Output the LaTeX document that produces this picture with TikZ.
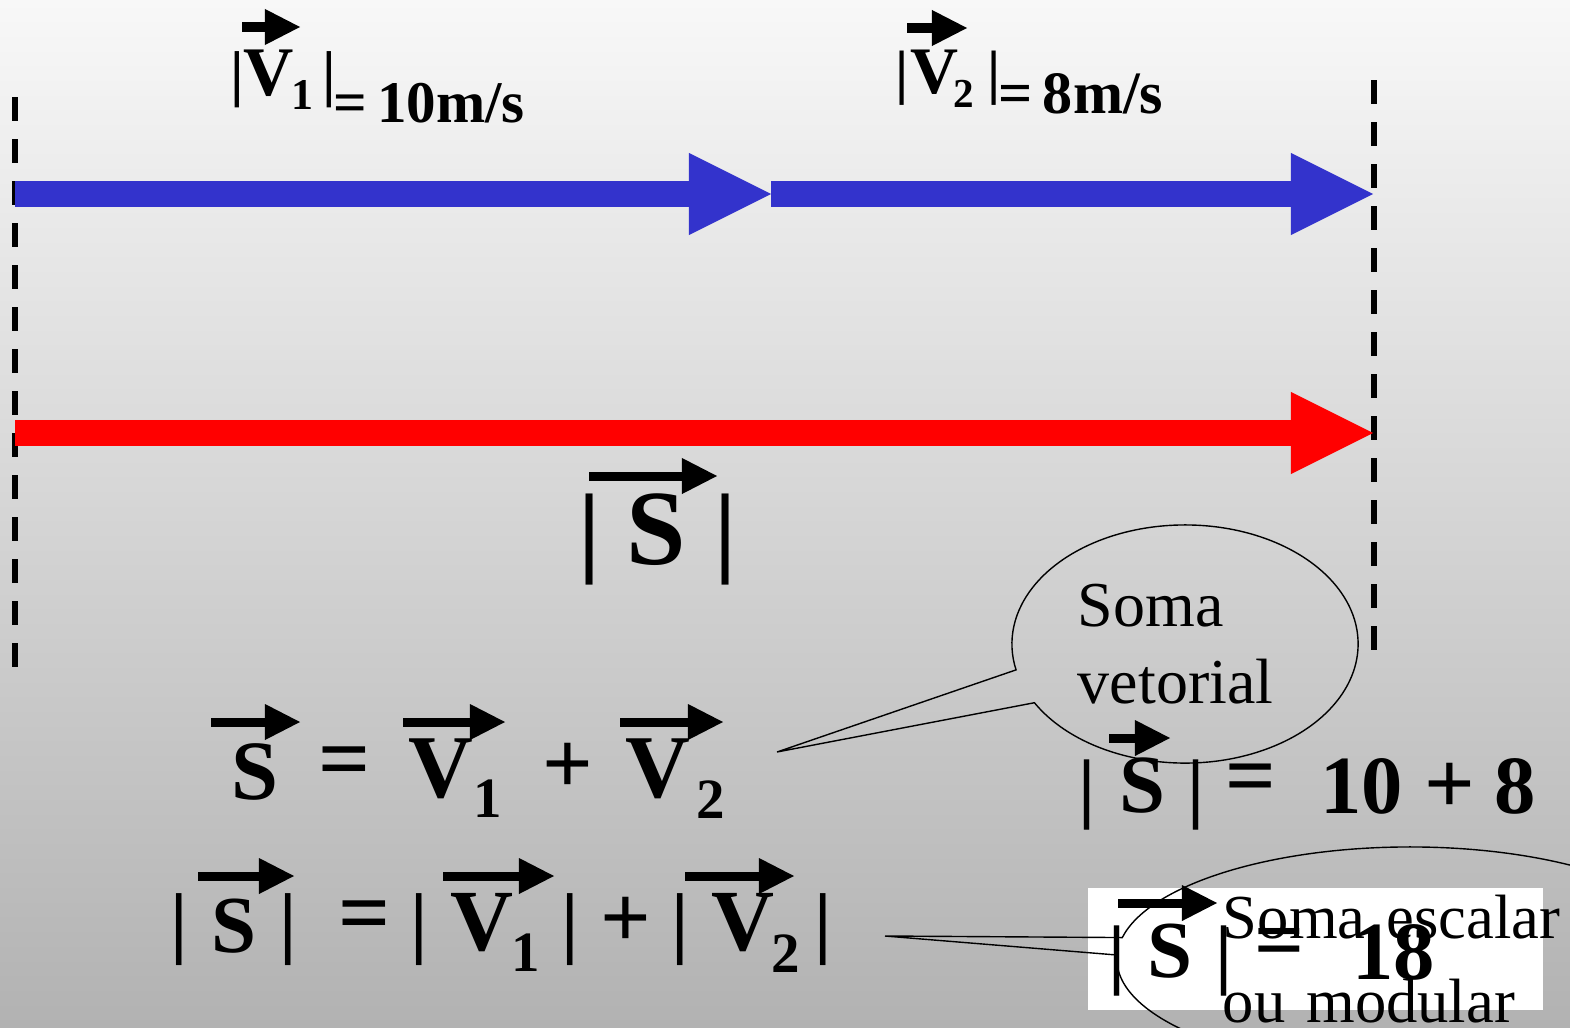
\documentclass[tikz,border=0pt]{standalone}
\usepackage{fontspec}
\setmainfont{Liberation Serif}
\usetikzlibrary{arrows.meta, shapes.callouts, positioning}
\definecolor{vecblue}{RGB}{51, 51, 204}
\definecolor{vecred}{RGB}{255, 0, 0}
\definecolor{bgtop}{RGB}{248, 248, 248}
\definecolor{bgbot}{RGB}{178, 178, 178}

\begin{document}
\begin{tikzpicture}[x=0.01cm, y=-0.01cm,
    bigarrow/.style={line width=0.26cm, -{Triangle[length=0.82cm, width=0.82cm, line width=0pt]}},
    vecarrow/.style={line width=0.09cm, -{Triangle[length=0.35cm, width=0.36cm, line width=0pt]}},
    guide/.style={line width=0.055cm, dash pattern=on 0.24cm off 0.18cm},
    rmf/.style={inner sep=0pt, font=\fontsize{#1}{#1}\selectfont},
    bff/.style={inner sep=0pt, font=\bfseries\fontsize{#1}{#1}\selectfont},
    balloon/.style={ellipse callout, draw=black, line width=0.014cm,
                    inner sep=0pt, align=left}
]

%% Background
\useasboundingbox (0,0) rectangle (1570,1027);
\shade[top color=bgtop, bottom color=bgbot] (0,0) rectangle (1570,1027);

%% Dashed guides
\draw[guide] (15,97) -- (15,672);
\draw[guide] (1374,80) -- (1374,662);

%% Vectors
\coordinate (O)  at (15,194);
\coordinate (A)  at (771,194);
\coordinate (B)  at (1373,194);
\coordinate (O2) at (15,433);
\coordinate (B2) at (1373,433);
\draw[bigarrow, vecblue] (O) -- (A);
\draw[bigarrow, vecblue] (A) -- (B);
\draw[bigarrow, vecred]  (O2) -- (B2);

%% ── Magnitude labels ──────────────────────────────
\node[bff=17.6pt] (v1barL) at (237.5,80) {|};
\node[bff=19.8pt] (v1)     at (268.5,73.5) {V};
\node[bff=12.5pt] (v1sub)  at (302,95) {1};
\node[bff=17.6pt] (v1barR) at (329.5,80) {|};
\node[bff=16.8pt, anchor=base west] (v1val) at (333,122) {=\,10m/s};

\node[bff=17pt]   (v2barL) at (902.5,78.5) {|};
\node[bff=18.9pt] (v2)     at (934.5,72.5) {V};
\node[bff=11.7pt] (v2sub)  at (963.5,94) {2};
\node[bff=17pt]   (v2barR) at (994.5,78.5) {|};
\node[bff=17.1pt, anchor=base west] (v2val) at (998,113) {=\,8m/s};

\node[bff=28.5pt] (sbarL) at (589.5,540) {|};
\node[bff=30.4pt] (sbig)  at (656,529.5) {S};
\node[bff=28.5pt] (sbarR) at (725.5,540) {|};

%% ── S = V1 + V2 ───────────────────────────────────
\node[bff=24pt]   (e1s)    at (255,772) {S};
\node[bff=26pt]   (e1eq)   at (345,768) {=};
\node[bff=25.5pt] (e1v1)   at (440.5,768.5) {V};
\node[bff=16.2pt] (e1n1)   at (487.5,798.5) {1};
\node[bff=25.3pt] (e1plus) at (568,768) {+};
\node[bff=25.5pt] (e1v2)   at (657.5,768.5) {V};
\node[bff=16.2pt] (e1n2)   at (710.5,799.5) {2};

%% ── |S| = |V1| + |V2| ─────────────────────────────
\node[bff=22.5pt] (e2b1)   at (179.5,930) {|};
\node[bff=23pt]   (e2s)    at (234,926) {S};
\node[bff=22.5pt] (e2b2)   at (288,930) {|};
\node[bff=26pt]   (e2eq)   at (365,922) {=};
\node[bff=22.5pt] (e2b3)   at (419.5,930) {|};
\node[bff=24.8pt] (e2v1)   at (482,922.5) {V};
\node[bff=16.2pt] (e2n1)   at (525.5,952.5) {1};
\node[bff=22.5pt] (e2b4)   at (570,930) {|};
\node[bff=25.3pt] (e2plus) at (625.5,922) {+};
\node[bff=22.5pt] (e2b5)   at (680,930) {|};
\node[bff=24.8pt] (e2v2)   at (742.5,922.5) {V};
\node[bff=16.2pt] (e2n2)   at (785.5,953.5) {2};
\node[bff=22.5pt] (e2b6)   at (823.5,930) {|};

%% ── |S| = 10 + 8 ──────────────────────────────────
\node[bff=22pt]   (rb1)   at (1086.5,794.5) {|};
\node[bff=23.5pt] (rs)    at (1142,786) {S};
\node[bff=22pt]   (rb2)   at (1196,794.5) {|};
\node[bff=25.3pt] (req)   at (1250.5,785) {=};
\node[bff=23.5pt] (r10)   at (1361.5,786) {10};
\node[bff=25.3pt] (rplus) at (1449.5,788) {+};
\node[bff=23.5pt] (r8)    at (1515,786) {8};

%% Arrows over the letters
\foreach \xa/\xb/\yy in {242/300/27, 907/967/28, 589/717/476,
                         211/300/722, 403/505/722, 620/723/722,
                         198/294/876, 443/554/876, 685/794/876,
                         1109/1170/738}
  \draw[vecarrow] (\xa,\yy) -- (\xb,\yy);

%% Callout: vector sum
\node[balloon, minimum width=3.46cm, minimum height=2.38cm, text width=2.14cm,
      callout absolute pointer={(777,752)}, callout pointer arc=17,
      font=\fontsize{18.2pt}{21.9pt}\selectfont] (soma1) at (1185,644) {Soma\\vetorial};

%% ── |S| = 18 (white box) ──────────────────────────
\node[fill=white, inner sep=0pt, minimum width=4.55cm, minimum height=1.22cm] (sbox) at (1315.5,949) {};
\node[bff=22pt]   (bb1) at (1117,960.5) {|};
\node[bff=23pt]   (bs)  at (1170,951.5) {S};
\node[bff=22pt]   (bb2) at (1224.5,960.5) {|};
\node[bff=25pt]   (beq) at (1280,948.5) {=};
\node[bff=23.5pt] (b18) at (1393.5,952.5) {18};
\draw[vecarrow] (1118,903) -- (1217,903);

%% Callout: scalar sum
\node[balloon, minimum width=5.86cm, minimum height=2.24cm, text width=3.74cm,
      callout absolute pointer={(885,936)}, callout pointer arc=9,
      font=\fontsize{17.8pt}{23.8pt}\selectfont] (soma2) at (1410,959) {Soma escalar\\ou modular};

\end{tikzpicture}
\end{document}
